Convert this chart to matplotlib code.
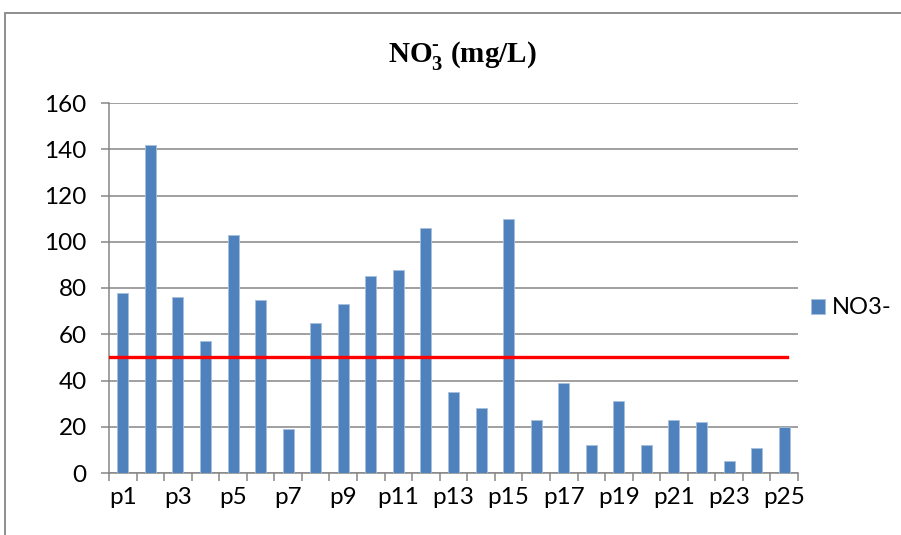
import matplotlib.pyplot as plt
from matplotlib.patches import Rectangle
import numpy as np

# nitrate concentration per sampling point
points = ["p%d" % i for i in range(1, 26)]
no3 = [78, 142, 76, 57, 103, 75, 19, 65, 73, 85, 88, 106, 35,
       28, 110, 23, 39, 12, 31, 12, 23, 22, 5, 11, 20]
limit = 50  # guideline value (mg/L)
yticks = [0, 20, 40, 60, 80, 100, 120, 140, 160]

GRID = "#868686"
BLUE = "#4F81BD"

plt.rcParams['font.family'] = ['Lato', 'DejaVu Sans']
plt.rcParams['mathtext.fontset'] = 'custom'
plt.rcParams['mathtext.rm'] = 'Liberation Serif:bold'
plt.rcParams['mathtext.bf'] = 'Liberation Serif:bold'

fig = plt.figure(figsize=(9.01, 5.35), dpi=100)
ax = fig.add_axes([109 / 901, 62 / 535, 689 / 901, 370 / 535])

x = np.arange(len(points))
ax.bar(x, no3, width=0.4, color=BLUE, edgecolor="#A7C0DE", linewidth=0.6,
       label="NO3-", zorder=3)
ax.axhline(limit, xmin=0, xmax=678 / 689, color="red", linewidth=2.4, zorder=4)

ax.set_xlim(-0.5, len(points) - 0.5)
ax.set_ylim(0, 160)
ax.set_yticks(yticks)
ax.yaxis.grid(True, color=GRID, linewidth=1.1, zorder=0)
ax.set_axisbelow(True)

# labels on every other point, tick marks between categories
ax.set_xticks(x[::2])
ax.set_xticklabels(points[::2])
ax.set_xticks(np.arange(-0.5, len(points), 1), minor=True)
ax.tick_params(axis="x", which="major", length=0, pad=10, labelsize=17.5)
ax.tick_params(axis="x", which="minor", length=6, width=1.1, color=GRID)
ax.tick_params(axis="y", length=6, width=1.1, color=GRID, pad=10, labelsize=17.5)

for side in ["top", "right"]:
    ax.spines[side].set_visible(False)
for side in ["left", "bottom"]:
    ax.spines[side].set_color(GRID)
    ax.spines[side].set_linewidth(1.1)

fig.text(462 / 901, 1 - 55 / 535, r"NO$_{3}^{\text{-}}$ (mg/L)",
         ha="center", va="center", fontsize=21, fontweight="bold",
         family="Liberation Serif")

ax.legend(loc="center left", bbox_to_anchor=(1.005, (473 - 308) / 370),
          frameon=False, fontsize=17, handlelength=0.6, handleheight=0.6,
          handletextpad=0.3, borderaxespad=0.0)

# chart border
fig.patches.append(Rectangle((5 / 901, -0.1), 1.2, 1 - 13 / 535 + 0.1,
                             transform=fig.transFigure, fill=False,
                             edgecolor=GRID, linewidth=1.3))

fig.savefig("out.png", dpi=100)
